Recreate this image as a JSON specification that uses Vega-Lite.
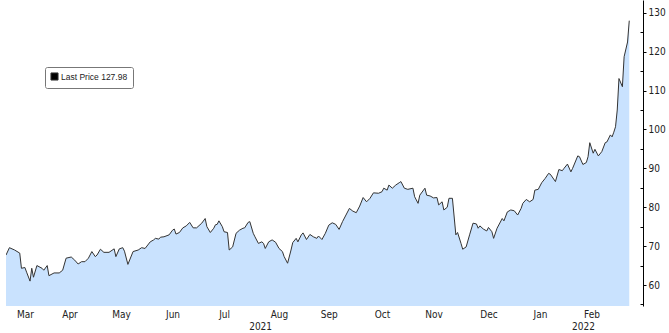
{
  "$schema": "https://vega.github.io/schema/vega-lite/v6.json",
  "width": 637,
  "height": 306,
  "autosize": {"type": "none"},
  "padding": {"left": 6, "top": 0, "right": 26, "bottom": 27},
  "background": "white",
  "config": {
    "view": {"stroke": null},
    "font": "Liberation Sans",
    "axis": {"labelFont": "DejaVu Sans Condensed", "labelColor": "#222222", "labelFontSize": 10}
  },
  "data": {
    "values": [
      {"date": "2021-03-10", "price": 67.7}, {"date": "2021-03-12", "price": 69.6}, {"date": "2021-03-15", "price": 69.0},
      {"date": "2021-03-18", "price": 68.2}, {"date": "2021-03-19", "price": 64.3}, {"date": "2021-03-21", "price": 64.5},
      {"date": "2021-03-22", "price": 63.3}, {"date": "2021-03-24", "price": 61.0}, {"date": "2021-03-25", "price": 64.3},
      {"date": "2021-03-26", "price": 62.0}, {"date": "2021-03-28", "price": 65.0}, {"date": "2021-03-31", "price": 64.3},
      {"date": "2021-04-01", "price": 63.8}, {"date": "2021-04-03", "price": 65.0}, {"date": "2021-04-04", "price": 62.4},
      {"date": "2021-04-07", "price": 63.1}, {"date": "2021-04-10", "price": 63.1}, {"date": "2021-04-12", "price": 63.8},
      {"date": "2021-04-14", "price": 66.9}, {"date": "2021-04-17", "price": 67.2}, {"date": "2021-04-19", "price": 66.4},
      {"date": "2021-04-21", "price": 65.4}, {"date": "2021-04-23", "price": 66.0}, {"date": "2021-04-25", "price": 66.0},
      {"date": "2021-04-27", "price": 66.9}, {"date": "2021-04-29", "price": 68.6}, {"date": "2021-05-01", "price": 67.3},
      {"date": "2021-05-02", "price": 67.7}, {"date": "2021-05-04", "price": 69.2}, {"date": "2021-05-06", "price": 68.4},
      {"date": "2021-05-09", "price": 68.4}, {"date": "2021-05-12", "price": 69.3}, {"date": "2021-05-13", "price": 67.3},
      {"date": "2021-05-15", "price": 69.3}, {"date": "2021-05-17", "price": 69.6}, {"date": "2021-05-18", "price": 68.7},
      {"date": "2021-05-20", "price": 65.3}, {"date": "2021-05-23", "price": 68.6}, {"date": "2021-05-26", "price": 69.0},
      {"date": "2021-05-28", "price": 69.6}, {"date": "2021-05-30", "price": 69.4}, {"date": "2021-06-02", "price": 71.1},
      {"date": "2021-06-04", "price": 71.6}, {"date": "2021-06-05", "price": 72.0}, {"date": "2021-06-07", "price": 71.8},
      {"date": "2021-06-08", "price": 72.3}, {"date": "2021-06-10", "price": 72.4}, {"date": "2021-06-13", "price": 72.9},
      {"date": "2021-06-15", "price": 74.1}, {"date": "2021-06-16", "price": 74.4}, {"date": "2021-06-17", "price": 73.1},
      {"date": "2021-06-19", "price": 73.5}, {"date": "2021-06-21", "price": 74.7}, {"date": "2021-06-23", "price": 75.2},
      {"date": "2021-06-25", "price": 76.1}, {"date": "2021-06-27", "price": 74.7}, {"date": "2021-06-29", "price": 74.7},
      {"date": "2021-07-02", "price": 75.9}, {"date": "2021-07-04", "price": 77.1}, {"date": "2021-07-05", "price": 75.0},
      {"date": "2021-07-07", "price": 73.5}, {"date": "2021-07-09", "price": 74.6}, {"date": "2021-07-10", "price": 75.5},
      {"date": "2021-07-11", "price": 75.6}, {"date": "2021-07-12", "price": 76.5}, {"date": "2021-07-14", "price": 75.0},
      {"date": "2021-07-15", "price": 73.7}, {"date": "2021-07-17", "price": 73.5}, {"date": "2021-07-18", "price": 69.0},
      {"date": "2021-07-20", "price": 69.8}, {"date": "2021-07-22", "price": 73.3}, {"date": "2021-07-24", "price": 74.1},
      {"date": "2021-07-26", "price": 74.6}, {"date": "2021-07-27", "price": 74.7}, {"date": "2021-07-29", "price": 76.1},
      {"date": "2021-07-30", "price": 76.3}, {"date": "2021-08-01", "price": 73.3}, {"date": "2021-08-02", "price": 72.4},
      {"date": "2021-08-04", "price": 70.7}, {"date": "2021-08-06", "price": 71.1}, {"date": "2021-08-07", "price": 70.7},
      {"date": "2021-08-08", "price": 69.4}, {"date": "2021-08-10", "price": 71.1}, {"date": "2021-08-12", "price": 71.6},
      {"date": "2021-08-14", "price": 71.0}, {"date": "2021-08-16", "price": 69.4}, {"date": "2021-08-18", "price": 68.6},
      {"date": "2021-08-19", "price": 67.3}, {"date": "2021-08-21", "price": 65.6}, {"date": "2021-08-23", "price": 69.0},
      {"date": "2021-08-24", "price": 70.9}, {"date": "2021-08-26", "price": 72.0}, {"date": "2021-08-27", "price": 71.1},
      {"date": "2021-08-29", "price": 72.9}, {"date": "2021-08-30", "price": 73.4}, {"date": "2021-09-01", "price": 71.7},
      {"date": "2021-09-03", "price": 73.0}, {"date": "2021-09-05", "price": 72.4}, {"date": "2021-09-07", "price": 72.0},
      {"date": "2021-09-08", "price": 72.6}, {"date": "2021-09-10", "price": 71.7}, {"date": "2021-09-12", "price": 73.3},
      {"date": "2021-09-14", "price": 75.4}, {"date": "2021-09-16", "price": 76.0}, {"date": "2021-09-18", "price": 75.6},
      {"date": "2021-09-20", "price": 74.3}, {"date": "2021-09-22", "price": 76.3}, {"date": "2021-09-24", "price": 78.0},
      {"date": "2021-09-26", "price": 79.7}, {"date": "2021-09-28", "price": 79.0}, {"date": "2021-09-30", "price": 78.6},
      {"date": "2021-10-02", "price": 80.3}, {"date": "2021-10-04", "price": 82.5}, {"date": "2021-10-06", "price": 81.4},
      {"date": "2021-10-08", "price": 82.3}, {"date": "2021-10-10", "price": 83.7}, {"date": "2021-10-13", "price": 83.6},
      {"date": "2021-10-15", "price": 84.0}, {"date": "2021-10-16", "price": 84.9}, {"date": "2021-10-18", "price": 84.4},
      {"date": "2021-10-19", "price": 85.7}, {"date": "2021-10-21", "price": 84.9}, {"date": "2021-10-23", "price": 85.7},
      {"date": "2021-10-25", "price": 86.3}, {"date": "2021-10-26", "price": 86.6}, {"date": "2021-10-28", "price": 84.9},
      {"date": "2021-10-30", "price": 84.6}, {"date": "2021-11-02", "price": 84.9}, {"date": "2021-11-03", "price": 82.7},
      {"date": "2021-11-05", "price": 81.0}, {"date": "2021-11-06", "price": 83.1}, {"date": "2021-11-09", "price": 84.9},
      {"date": "2021-11-10", "price": 83.1}, {"date": "2021-11-12", "price": 82.9}, {"date": "2021-11-14", "price": 82.4},
      {"date": "2021-11-16", "price": 82.5}, {"date": "2021-11-17", "price": 80.6}, {"date": "2021-11-19", "price": 81.4},
      {"date": "2021-11-20", "price": 79.3}, {"date": "2021-11-22", "price": 80.0}, {"date": "2021-11-23", "price": 82.3},
      {"date": "2021-11-25", "price": 82.3}, {"date": "2021-11-27", "price": 72.9}, {"date": "2021-11-28", "price": 73.5},
      {"date": "2021-11-30", "price": 70.7}, {"date": "2021-12-01", "price": 69.2}, {"date": "2021-12-03", "price": 69.8},
      {"date": "2021-12-05", "price": 72.9}, {"date": "2021-12-07", "price": 75.9}, {"date": "2021-12-09", "price": 75.7},
      {"date": "2021-12-10", "price": 74.6}, {"date": "2021-12-11", "price": 75.2}, {"date": "2021-12-13", "price": 74.4},
      {"date": "2021-12-15", "price": 73.9}, {"date": "2021-12-16", "price": 74.8}, {"date": "2021-12-18", "price": 73.7},
      {"date": "2021-12-19", "price": 72.0}, {"date": "2021-12-21", "price": 74.6}, {"date": "2021-12-24", "price": 77.1},
      {"date": "2021-12-25", "price": 76.5}, {"date": "2021-12-27", "price": 78.8}, {"date": "2021-12-29", "price": 79.3},
      {"date": "2021-12-31", "price": 79.1}, {"date": "2022-01-02", "price": 78.0}, {"date": "2022-01-04", "price": 79.7},
      {"date": "2022-01-05", "price": 81.0}, {"date": "2022-01-07", "price": 82.0}, {"date": "2022-01-09", "price": 81.4},
      {"date": "2022-01-11", "price": 82.0}, {"date": "2022-01-12", "price": 84.4}, {"date": "2022-01-14", "price": 84.6},
      {"date": "2022-01-16", "price": 86.3}, {"date": "2022-01-18", "price": 87.4}, {"date": "2022-01-20", "price": 88.7},
      {"date": "2022-01-21", "price": 88.5}, {"date": "2022-01-24", "price": 86.6}, {"date": "2022-01-26", "price": 89.7},
      {"date": "2022-01-28", "price": 89.4}, {"date": "2022-01-29", "price": 90.0}, {"date": "2022-01-31", "price": 91.1},
      {"date": "2022-02-02", "price": 89.1}, {"date": "2022-02-03", "price": 90.0}, {"date": "2022-02-06", "price": 93.2},
      {"date": "2022-02-07", "price": 93.0}, {"date": "2022-02-09", "price": 91.0}, {"date": "2022-02-11", "price": 91.5},
      {"date": "2022-02-12", "price": 93.0}, {"date": "2022-02-13", "price": 96.6}, {"date": "2022-02-15", "price": 93.9},
      {"date": "2022-02-16", "price": 94.9}, {"date": "2022-02-18", "price": 93.2}, {"date": "2022-02-20", "price": 94.3},
      {"date": "2022-02-22", "price": 96.6}, {"date": "2022-02-23", "price": 96.8}, {"date": "2022-02-25", "price": 98.6},
      {"date": "2022-02-26", "price": 98.1}, {"date": "2022-02-27", "price": 99.3}, {"date": "2022-02-28", "price": 100.7},
      {"date": "2022-03-01", "price": 105.0}, {"date": "2022-03-02", "price": 113.1}, {"date": "2022-03-04", "price": 111.0},
      {"date": "2022-03-05", "price": 118.7}, {"date": "2022-03-07", "price": 122.5}, {"date": "2022-03-08", "price": 127.98}
    ]
  },
  "transform": [{"calculate": "'Last Price 127.98'", "as": "series"}],
  "encoding": {
    "x": {
      "field": "date", "type": "temporal", "title": null,
      "scale": {"type": "utc", "domain": [{"year": 2021, "month": 3, "date": 10, "utc": true}, {"year": 2022, "month": 3, "date": 16, "utc": true}]},
      "axis": {
        "domain": false, "ticks": false, "grid": false, "labelOverlap": false, "labelPadding": 3,
        "labelAlign": "center", "labelBaseline": "top", "labelLineHeight": 12,
        "values": [
          {"year": 2021, "month": 3, "date": 21, "utc": true},
          {"year": 2021, "month": 4, "date": 16, "utc": true},
          {"year": 2021, "month": 5, "date": 16, "utc": true},
          {"year": 2021, "month": 6, "date": 15, "utc": true},
          {"year": 2021, "month": 7, "date": 15, "utc": true},
          {"year": 2021, "month": 8, "date": 16, "utc": true},
          {"year": 2021, "month": 9, "date": 14, "utc": true},
          {"year": 2021, "month": 10, "date": 15, "utc": true},
          {"year": 2021, "month": 11, "date": 14, "utc": true},
          {"year": 2021, "month": 12, "date": 16, "utc": true},
          {"year": 2022, "month": 1, "date": 15, "utc": true},
          {"year": 2022, "month": 2, "date": 14, "utc": true},
          {"year": 2021, "month": 8, "date": 5, "utc": true},
          {"year": 2022, "month": 2, "date": 9, "utc": true}
        ],
        "labelExpr": "utcdate(datum.value) < 12 ? ['', utcFormat(datum.value, '%Y')] : utcFormat(datum.value, '%b')"
      }
    },
    "y": {
      "field": "price", "type": "quantitative", "title": null,
      "scale": {"domain": [54.6, 133.3], "nice": false, "zero": false},
      "axis": {
        "orient": "right", "grid": false, "domainColor": "#000000", "domainWidth": 1,
        "tickColor": "#000000", "labelPadding": 2,
        "values": [55, 60, 65, 70, 75, 80, 85, 90, 95, 100, 105, 110, 115, 120, 125, 130],
        "tickSize": {"condition": {"test": "datum.value % 10 === 0", "value": 3}, "value": -3},
        "labelExpr": "datum.value % 10 === 0 ? datum.label : ''"
      }
    }
  },
  "layer": [
    {
      "mark": {"type": "area", "color": "#c9e2fe", "clip": true}
    },
    {
      "mark": {"type": "line", "strokeWidth": 1, "clip": true},
      "encoding": {
        "color": {
          "field": "series", "type": "nominal", "title": null,
          "scale": {"range": ["#333333"]},
          "legend": {
            "orient": "none", "legendX": 39, "legendY": 67,
            "symbolType": "square", "symbolSize": 50, "symbolFillColor": "#000000", "symbolStrokeColor": "#000000",
            "symbolStrokeWidth": 1,
            "labelFont": "Liberation Sans", "labelFontSize": 8.5, "labelColor": "#222222",
            "padding": 5, "strokeColor": "#777777", "fillColor": "#ffffff", "cornerRadius": 2,
            "labelOffset": 2
          }
        }
      }
    }
  ]
}
